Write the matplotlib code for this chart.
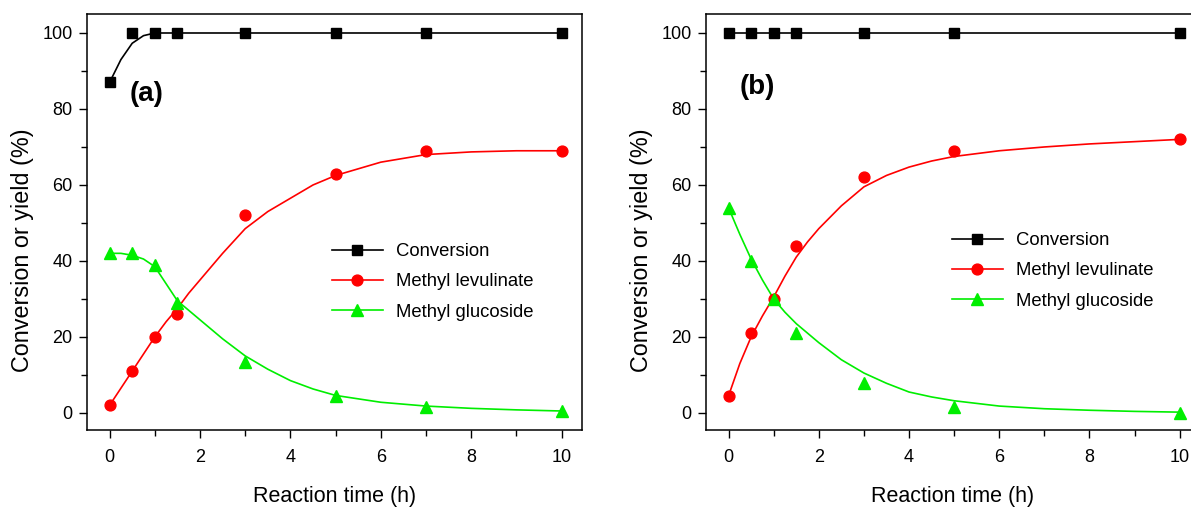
import matplotlib
matplotlib.use("Agg")
import matplotlib.pyplot as plt
from matplotlib.lines import Line2D
from matplotlib.ticker import MultipleLocator

plt.rcParams['font.family'] = ['Liberation Sans', 'DejaVu Sans']

# ---- measured data (panel a) ----
t_a = [0, 0.5, 1, 1.5, 3, 5, 7, 10]
conv_a = [87, 100, 100, 100, 100, 100, 100, 100]
ml_a = [2, 11, 20, 26, 52, 63, 69, 69]
mg_a = [42, 42, 39, 29, 13.5, 4.5, 1.5, 0.5]

# ---- measured data (panel b) ----
t_b = [0, 0.5, 1, 1.5, 3, 5, 10]
conv_b = [100, 100, 100, 100, 100, 100, 100]
ml_b = [4.5, 21, 30, 44, 62, 69, 72]
mg_b = [54, 40, 30, 21, 8, 1.5, 0]

# ---- fitted curves ----
fit_t = [0, 0.25, 0.5, 0.75, 1, 1.25, 1.5, 1.75, 2, 2.5, 3, 3.5, 4, 4.5, 5, 6, 7, 8, 9, 10]
fit_conv_a_t = [0, 0.25, 0.5, 0.75, 1, 10]
fit_conv_a = [87, 93, 97.3, 99.3, 100, 100]
fit_ml_a = [2, 6.5, 11, 15.5, 20, 24, 27.5, 31.5, 35, 42, 48.5, 53, 56.5, 60, 62.5, 66, 68, 68.7, 69, 69]
fit_mg_a = [42, 42, 41.5, 40.5, 38.5, 34, 29.5, 27, 24.5, 19.5, 15, 11.5, 8.5, 6.3, 4.6, 2.8, 1.8, 1.2, 0.8, 0.5]
fit_ml_b = [4.5, 13, 20, 25.5, 30.5, 36, 41, 45, 48.5, 54.5, 59.5, 62.5, 64.7, 66.3, 67.5, 69, 70, 70.8, 71.4, 72]
fit_mg_b = [54, 47, 40.5, 35, 30, 26.5, 23.5, 21, 18.5, 14, 10.5, 7.8, 5.5, 4.2, 3.2, 1.8, 1.1, 0.7, 0.4, 0.2]

labels = ["Conversion", "Methyl levulinate", "Methyl glucoside"]
colors = ["black", "#ff0000", "#00ee00"]
markers = ["s", "o", "^"]
msizes = [6.8, 7.8, 8.6]
LW = 1.2

W, H = 1191, 507
fig = plt.figure(figsize=(W / 100, H / 100), dpi=100)
ax_a = fig.add_axes([87 / W, 1 - 430 / H, (582 - 87) / W, (430 - 14) / H])
ax_b = fig.add_axes([706 / W, 1 - 430 / H, (1200 - 706) / W, (430 - 14) / H])


def style(ax):
    ax.set_xlim(-0.5, 10.45)
    ax.set_ylim(-4.5, 105)
    ax.xaxis.set_major_locator(MultipleLocator(2))
    ax.xaxis.set_minor_locator(MultipleLocator(1))
    ax.yaxis.set_major_locator(MultipleLocator(20))
    ax.yaxis.set_minor_locator(MultipleLocator(10))
    ax.tick_params(which='both', direction='out', top=False, right=False, labelsize=13, width=1.0)
    ax.tick_params(which='major', length=5.5)
    ax.tick_params(which='minor', length=4)
    ax.tick_params(axis='x', which='major', pad=8)
    ax.tick_params(axis='y', which='major', pad=5)
    for s in ax.spines.values():
        s.set_linewidth(1.1)
    ax.set_xlabel("Reaction time (h)", fontsize=15.5)
    ax.set_ylabel("Conversion or yield (%)", fontsize=16.8)
    ax.xaxis.set_label_coords(0.5, -0.135)
    ax.yaxis.set_label_coords(-0.107, 0.433)


def legend(ax, loc_xy):
    handles = [Line2D([], [], color=c, marker=m, markersize=ms, lw=LW)
               for c, m, ms in zip(colors, markers, msizes)]
    ax.legend(handles, labels, loc='upper left', bbox_to_anchor=loc_xy, frameon=False,
              fontsize=13.3, handlelength=2.75, handletextpad=0.7, labelspacing=0.72,
              borderaxespad=0, borderpad=0)


# panel a
style(ax_a)
ax_a.plot(fit_conv_a_t, fit_conv_a, color=colors[0], lw=LW)
ax_a.plot(fit_t, fit_ml_a, color=colors[1], lw=LW)
ax_a.plot(fit_t, fit_mg_a, color=colors[2], lw=LW)
ax_a.plot(t_a, conv_a, ls='none', marker=markers[0], ms=msizes[0], color=colors[0])
ax_a.plot(t_a, ml_a, ls='none', marker=markers[1], ms=msizes[1], color=colors[1])
ax_a.plot(t_a, mg_a, ls='none', marker=markers[2], ms=msizes[2], color=colors[2])
ax_a.text(0.44, 82, "(a)", fontsize=20, fontweight='bold')
legend(ax_a, ((332 - 87) / (582 - 87), (430 - 243) / 416))

# panel b
style(ax_b)
ax_b.plot(t_b, conv_b, color=colors[0], lw=LW)
ax_b.plot(fit_t, fit_ml_b, color=colors[1], lw=LW)
ax_b.plot(fit_t, fit_mg_b, color=colors[2], lw=LW)
ax_b.plot(t_b, conv_b, ls='none', marker=markers[0], ms=msizes[0], color=colors[0])
ax_b.plot(t_b, ml_b, ls='none', marker=markers[1], ms=msizes[1], color=colors[1])
ax_b.plot(t_b, mg_b, ls='none', marker=markers[2], ms=msizes[2], color=colors[2])
ax_b.text(0.25, 84, "(b)", fontsize=20, fontweight='bold')
legend(ax_b, ((952 - 706) / (1200 - 706), (430 - 232) / 416))

fig.savefig("out.png", dpi=100)
